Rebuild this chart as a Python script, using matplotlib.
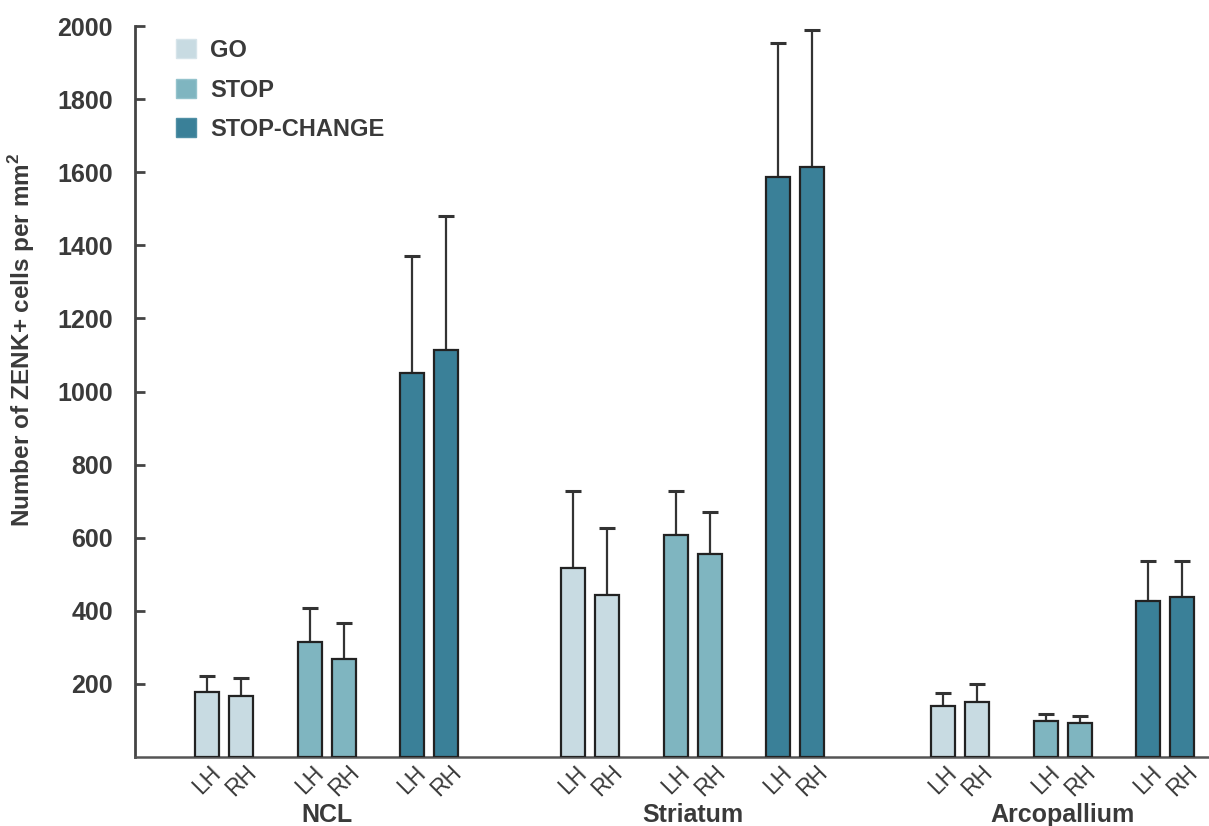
import matplotlib
matplotlib.use("Agg")
import matplotlib.pyplot as plt
from matplotlib.patches import Patch
from matplotlib.transforms import blended_transform_factory
import numpy as np

plt.rcParams['font.family'] = ['Liberation Sans', 'DejaVu Sans']

# ---- data (order: NCL LH, NCL RH, Striatum LH, Striatum RH, Arcopallium LH, Arcopallium RH)
regions = ["NCL", "Striatum", "Arcopallium"]
conditions = ["GO", "STOP", "STOP-CHANGE"]
hemispheres = ["LH", "RH"]

go_mean = [178, 167, 516, 442, 140, 150]
go_err = [44, 49, 213, 184, 34, 50]
stop_mean = [315, 269, 607, 556, 98, 93]
stop_err = [93, 98, 121, 113, 21, 18]
sc_mean = [1050, 1114, 1587, 1615, 428, 437]
sc_err = [322, 365, 366, 374, 109, 100]

y_ticks = [200, 400, 600, 800, 1000, 1200, 1400, 1600, 1800, 2000]

means = [go_mean, stop_mean, sc_mean]
errs = [go_err, stop_err, sc_err]
colors = ["#c8dbe2", "#7fb5c0", "#3a8098"]
legend_edge = ["#d6e4ea", "#94c3cc", "#4f8fa5"]

# ---- layout
W, H = 1209, 826
fig = plt.figure(figsize=(W / 100, H / 100), dpi=100)
ax = fig.add_axes([135 / W, 1 - 757 / H, 1 - 135 / W, (757 - 26) / H])

group_offsets = [0.0, 10.76, 21.64]
cond_offsets = [0.0, 3.03, 6.03]
hemi_offsets = [0.0, 1.0]
bar_w = 0.7

text_col = "#3a3a3a"
tick_pos, tick_lab = [], []
for ci, cond in enumerate(conditions):
    xs, hs, es = [], [], []
    for ri, reg in enumerate(regions):
        for hi, hemi in enumerate(hemispheres):
            k = ri * 2 + hi
            x = group_offsets[ri] + cond_offsets[ci] + hemi_offsets[hi]
            xs.append(x)
            hs.append(means[ci][k])
            es.append(errs[ci][k])
            tick_pos.append(x)
            tick_lab.append(hemi)
    ax.bar(xs, hs, width=bar_w, color=colors[ci], edgecolor="#222222",
           linewidth=1.6, zorder=3)
    ax.errorbar(xs, hs, yerr=[np.zeros(len(es)), es], fmt="none",
                ecolor="#333333", elinewidth=1.6, capsize=6, capthick=2.2,
                zorder=2)

ax.set_xlim(-2.12, 29.47)
ax.set_ylim(0, 2000)

# spines
for s in ["top", "right"]:
    ax.spines[s].set_visible(False)
ax.spines["left"].set_color("#444444")
ax.spines["left"].set_linewidth(2.0)
ax.spines["left"].set_bounds(0, 2000)
ax.spines["bottom"].set_color("#555555")
ax.spines["bottom"].set_linewidth(1.8)

ax.set_yticks(y_ticks)
ax.set_yticklabels([str(v) for v in y_ticks], fontsize=18, fontweight="bold",
                   color=text_col)
ax.tick_params(axis="y", direction="in", length=7.5, width=2,
               color="#444444", pad=16)

ax.set_xticks(tick_pos)
ax.set_xticklabels(tick_lab, rotation=45, ha="center", va="top",
                   fontsize=16.5, color=text_col)
ax.tick_params(axis="x", length=0, pad=3)

ax.set_ylabel("Number of ZENK+ cells per mm$^\\mathregular{2}$", fontsize=17.5,
              fontweight="bold", color=text_col)
ax.yaxis.set_label_coords(-0.091, 0.570)

trans = blended_transform_factory(ax.transData, ax.transAxes)
for ri, reg in enumerate(regions):
    xc = group_offsets[ri] + (cond_offsets[0] + cond_offsets[2] + 1) / 2
    ax.text(xc, -58 / 731, reg, transform=trans, ha="center", va="center",
            fontsize=18, fontweight="bold", color=text_col)

handles = [Patch(facecolor=colors[i], edgecolor=legend_edge[i], linewidth=1.0,
                 label=conditions[i]) for i in range(3)]
fig.legend(handles=handles, loc="upper left",
           bbox_to_anchor=(176 / W, 1 - 39 / H), frameon=False,
           prop={"weight": "bold", "size": 17},
           handlelength=0.85, handleheight=0.85, labelspacing=0.7,
           handletextpad=0.6, borderpad=0, borderaxespad=0,
           labelcolor=text_col)

fig.savefig("out.png", dpi=100)
